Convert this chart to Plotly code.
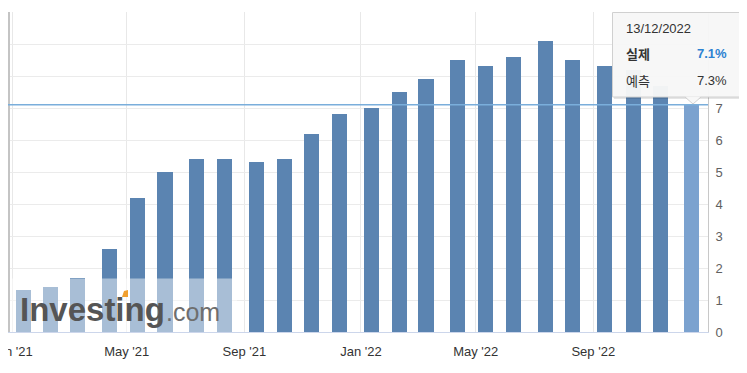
import plotly.graph_objects as go

release_dates = ["2021-01-13", "2021-02-10", "2021-03-10", "2021-04-13", "2021-05-12", "2021-06-10",
                 "2021-07-13", "2021-08-11", "2021-09-14", "2021-10-13", "2021-11-10", "2021-12-10",
                 "2022-01-12", "2022-02-10", "2022-03-10", "2022-04-12", "2022-05-11", "2022-06-10",
                 "2022-07-13", "2022-08-10", "2022-09-13", "2022-10-13", "2022-11-10", "2022-12-13"]
actual = [1.3, 1.4, 1.7, 2.6, 4.2, 5.0, 5.4, 5.4, 5.3, 5.4, 6.2, 6.8,
          7.0, 7.5, 7.9, 8.5, 8.3, 8.6, 9.1, 8.5, 8.3, 8.2, 7.7, 7.1]
x_tick_dates = ["2021-01-01", "2021-05-01", "2021-09-01", "2022-01-01", "2022-05-01", "2022-09-01"]
x_tick_labels = ["Jan '21", "May '21", "Sep '21", "Jan '22", "May '22", "Sep '22"]
y_ticks = [0, 1, 2, 3, 4, 5, 6, 7, 8, 9, 10]
# 8 and 9 are hidden behind the tooltip in the reference
y_tick_labels = ["0", "1", "2", "3", "4", "5", "6", "7", "", "", "10"]

tip_date = "13/12/2022"
tip_actual_label = "실제"
tip_actual_value = "7.1%"
tip_forecast_label = "예측"
tip_forecast_value = "7.3%"
current_value = 7.1

# page body has an 8px margin; work in screen coordinates and convert
OX, OY = 8, 8
W, H = 747 - OX, 373 - OY
PLOT_L, PLOT_R, PLOT_T, PLOT_B = 8, 708, 12, 332   # screen pixels
L, R, T, B = PLOT_L - OX, (OX + W) - PLOT_R, PLOT_T - OY, (OY + H) - PLOT_B
PW, PH = PLOT_R - PLOT_L, PLOT_B - PLOT_T


def px(x):
    return (x - PLOT_L) / PW


def py(y):
    return (PLOT_B - y) / PH


FONT = "Arial, Liberation Sans, sans-serif"
KFONT = "Noto Sans CJK KR, Arial, sans-serif"

colors = ["#5b84b1"] * (len(actual) - 1) + ["#7ba2cf"]

fig = go.Figure()
fig.add_trace(go.Bar(
    x=release_dates, y=actual, marker=dict(color=colors, line=dict(width=0)),
    width=1.36e9, hoverinfo="skip"))

shapes = []
shapes.append(dict(type="rect", xref="paper", yref="paper", x0=0.0, x1=px(237), y0=0, y1=py(278.5),
                   fillcolor="rgba(255,255,255,0.47)", line=dict(width=0), layer="above"))
shapes.append(dict(type="line", xref="paper", yref="paper", x0=px(9), x1=px(9), y0=0, y1=1,
                   line=dict(color="#c4c4c4", width=2), layer="above"))
shapes.append(dict(type="line", xref="paper", yref="y", x0=0, x1=1, y0=current_value, y1=current_value,
                   line=dict(color="#7aaedb", width=1.5), layer="above"))
shapes.append(dict(type="rect", xref="paper", yref="paper", x0=px(614), x1=px(747), y0=py(99), y1=py(14),
                   fillcolor="rgba(0,0,0,0.10)", line=dict(width=0), layer="above"))
shapes.append(dict(type="rect", xref="paper", yref="paper", x0=px(612.5), x1=px(745.5), y0=py(97), y1=py(12.5),
                   fillcolor="rgba(247,247,247,0.97)", line=dict(color="#d0d0d0", width=1), layer="above"))
x0p, x1p, xm = px(685), px(701), px(693)
shapes.append(dict(type="path", xref="paper", yref="paper",
                   path=f"M {x0p},{py(96.5)} L {xm},{py(104)} L {x1p},{py(96.5)} Z",
                   fillcolor="rgba(247,247,247,0.97)", line=dict(width=0), layer="above"))
shapes.append(dict(type="path", xref="paper", yref="paper",
                   path=f"M {x0p},{py(97)} L {xm},{py(104)} L {x1p},{py(97)}",
                   line=dict(color="#d0d0d0", width=1), layer="above"))
shapes.append(dict(type="path", xref="paper", yref="paper",
                   path=f"M {px(122)},{py(297)} L {px(128)},{py(297)} L {px(128)},{py(290)} L {px(124)},{py(291)} Z",
                   fillcolor="#f0a030", line=dict(width=0), layer="above"))

annotations = [
    dict(xref="paper", yref="paper", x=px(18), y=py(309), xanchor="left", yanchor="middle",
         text="<b>Investing</b>", showarrow=False,
         font=dict(family=FONT, size=33, color="#555555")),
    dict(xref="paper", yref="paper", x=px(164), y=py(312), xanchor="left", yanchor="middle",
         text=".com", showarrow=False,
         font=dict(family=FONT, size=25, color="#6e6e6e")),
    dict(xref="paper", yref="paper", x=px(624), y=py(28), xanchor="left", yanchor="middle",
         text=tip_date, showarrow=False, font=dict(family=FONT, size=13, color="#333333")),
    dict(xref="paper", yref="paper", x=px(624), y=py(54), xanchor="left", yanchor="middle",
         text=f"<b>{tip_actual_label}</b>", showarrow=False, font=dict(family=KFONT, size=13, color="#333333")),
    dict(xref="paper", yref="paper", x=px(729), y=py(54), xanchor="right", yanchor="middle",
         text=f"<b>{tip_actual_value}</b>", showarrow=False, font=dict(family=FONT, size=13, color="#2d82d2")),
    dict(xref="paper", yref="paper", x=px(624), y=py(80), xanchor="left", yanchor="middle",
         text=tip_forecast_label, showarrow=False, font=dict(family=KFONT, size=13, color="#333333")),
    dict(xref="paper", yref="paper", x=px(729), y=py(80), xanchor="right", yanchor="middle",
         text=tip_forecast_value, showarrow=False, font=dict(family=FONT, size=13, color="#333333")),
]

fig.update_layout(
    width=W, height=H, margin=dict(l=L, r=R, t=T, b=B, pad=0, autoexpand=False),
    paper_bgcolor="white", plot_bgcolor="white", showlegend=False,
    bargap=0, shapes=shapes, annotations=annotations,
    font=dict(family=FONT, size=13, color="#333333"),
    xaxis=dict(type="date", range=["2020-12-27 19:00", "2022-12-30"], automargin=False,
               tickmode="array", tickvals=x_tick_dates, ticktext=x_tick_labels,
               ticklabeloverflow="allow",
               showgrid=True, gridcolor="#e8e8e8", gridwidth=1,
               showline=True, linecolor="#ccd6eb", linewidth=1,
               ticks="outside", ticklen=7, tickcolor="rgba(0,0,0,0)",
               tickfont=dict(family=FONT, size=13, color="#333333"), zeroline=False),
    yaxis=dict(range=[0, 10], side="right", tickmode="array", tickvals=y_ticks, ticktext=y_tick_labels,
               automargin=False,
               showgrid=True, gridcolor="#ebebeb", gridwidth=1,
               showline=True, linecolor="#c8c8c8", linewidth=1,
               ticks="outside", ticklen=4, tickcolor="rgba(0,0,0,0)",
               tickfont=dict(family=FONT, size=13, color="#606060"), zeroline=False),
)

fig.write_html("out.html")
